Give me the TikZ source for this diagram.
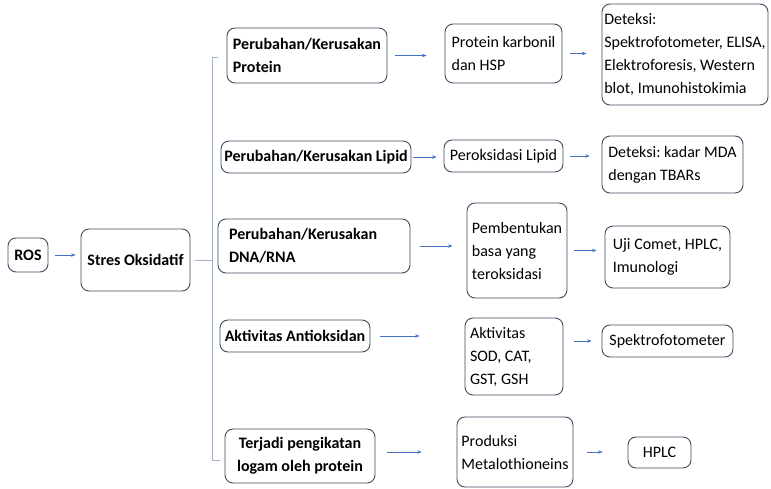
\documentclass[tikz,border=0pt]{standalone}
\usepackage{fontspec}
\setmainfont{Carlito}
\usepackage{xcolor}
\usetikzlibrary{arrows.meta, calc}

\definecolor{boxline}{HTML}{3E4B5E}
\definecolor{arrowblue}{HTML}{4472C4}
\definecolor{bracketgray}{HTML}{A3B1C6}

\begin{document}
\frenchspacing
\begin{tikzpicture}[x=1pt, y=-1pt,
    box/.style={draw=boxline, line width=0.9pt, rounded corners=8pt, fill=white,
        inner sep=1pt, align=left, font=\fontsize{16}{23}\selectfont},
    bbox/.style={box, font=\fontsize{16}{23}\selectfont\bfseries},
    arr/.style={draw=arrowblue, line width=0.6pt, -{Stealth[length=4.5pt, width=3.5pt]}},
    brk/.style={draw=bracketgray, line width=0.9pt}]
    \useasboundingbox (0,0) rectangle (771,488);

    % Source
    \node[bbox, minimum width=40pt, minimum height=34pt] (ros) at (28,255) {ROS};
    \node[bbox, align=center, minimum width=109pt, minimum height=62pt] (stres) at (135.5,260) {Stres Oksidatif};

    % Effects
    \node[bbox, minimum width=160pt, minimum height=55pt] (p1) at (307,55.5) {Perubahan/Kerusakan\\Protein};
    \node[bbox, minimum width=190pt, minimum height=32pt] (p2) at (316,157) {Perubahan/Kerusakan Lipid};
    \node[bbox, align=flush left, text width=170pt, minimum width=192pt, minimum height=54pt] (p3) at (314,246) {Perubahan/Kerusakan\\DNA/RNA};
    \node[bbox, minimum width=150pt, minimum height=32pt] (p4) at (295,336) {Aktivitas Antioksidan};
    \node[bbox, align=center, minimum width=150pt, minimum height=54pt] (p5) at (300,456) {Terjadi pengikatan\\logam oleh protein};

    % Markers
    \node[box, minimum width=117pt, minimum height=59pt] (pk) at (503.5,53.5) {Protein karbonil\\dan HSP};
    \node[box, minimum width=119pt, minimum height=32pt] (pl) at (503.5,156) {Peroksidasi Lipid};
    \node[box, minimum width=100pt, minimum height=95pt] (pb) at (517,250.5) {Pembentukan\\basa yang\\teroksidasi};
    \node[box, align=flush left, text width=88pt, minimum width=98pt, minimum height=77pt] (ak) at (514,356.5) {Aktivitas\\SOD, CAT,\\GST, GSH};
    \node[box, minimum width=116pt, minimum height=70pt] (pm) at (515,452) {Produksi\\Metalothioneins};

    % Detection methods
    \node[box, minimum width=166pt, minimum height=101pt] (d1) at (685,54.5) {Deteksi:\\Spektrofotometer, ELISA,\\Elektroforesis, Western\\blot, Imunohistokimia};
    \node[box, minimum width=141pt, minimum height=57pt] (d2) at (672.5,164.5) {Deteksi: kadar MDA\\dengan TBARs};
    \node[box, minimum width=125pt, minimum height=62pt] (uc) at (667.5,257) {Uji Comet, HPLC,\\Imunologi};
    \node[box, minimum width=131pt, minimum height=32pt] (sp) at (667.5,341) {Spektrofotometer};
    \node[box, align=center, minimum width=63pt, minimum height=31pt] (hp) at (659.5,452.5) {HPLC};

    % Bracket
    \coordinate (spinetop) at (212,57);
    \coordinate (spinebot) at (212,460);
    \draw[brk] ($(spinetop)+(6,0)$) -- (spinetop) -- (spinebot) -- ++(8,0);
    \draw[brk, shorten <=5pt] (stres.east) -- (stres.east -| spinetop);

    % Arrows
    \draw[arr, shorten <=7pt, shorten >=5pt] (ros.east) -- (ros.east -| stres.west);
    \draw[arr, shorten <=8pt, shorten >=18pt] (p1.east) -- (p1.east -| pk.west);
    \draw[arr, shorten <=8pt, shorten >=15pt] (pk.east) -- (pk.east -| d1.west);
    \draw[arr, shorten <=2pt, shorten >=7pt] (p2.east) -- (p2.east -| pl.west);
    \draw[arr, shorten <=7pt, shorten >=12pt] (pl.east) -- (pl.east -| d2.west);
    \draw[arr, shorten <=10pt, shorten >=14pt] (p3.east) -- (p3.east -| pb.west);
    \draw[arr, shorten <=7pt, shorten >=8pt] (pb.east) -- (pb.east -| uc.west);
    \draw[arr, shorten <=10pt, shorten >=45pt] (p4.east) -- (p4.east -| ak.west);
    \draw[arr, shorten <=11pt, shorten >=10pt] (sp.west -| ak.east) -- (sp.west);
    \draw[arr, shorten <=12pt, shorten >=35pt] (pm.west -| p5.east) -- (pm.west);
    \draw[arr, shorten <=14pt, shorten >=25pt] (pm.east) -- (pm.east -| hp.west);
\end{tikzpicture}
\end{document}
